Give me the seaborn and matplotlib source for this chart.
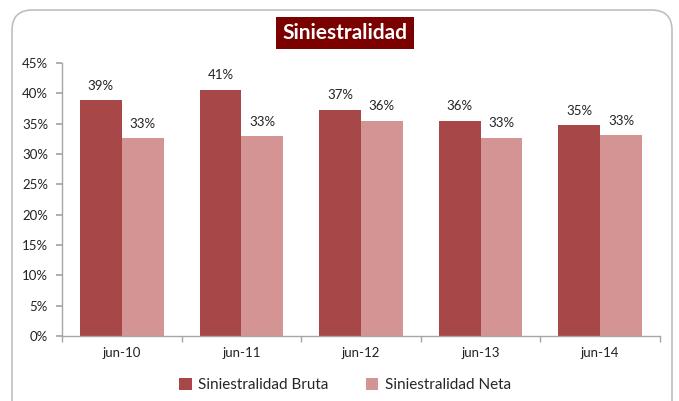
import matplotlib
matplotlib.use('Agg')
import matplotlib.pyplot as plt
import matplotlib.ticker as mtick
from matplotlib.patches import FancyBboxPatch
import seaborn as sns
import pandas as pd

periodos = ['jun-10', 'jun-11', 'jun-12', 'jun-13', 'jun-14']
bruta = [38.9, 40.6, 37.3, 35.5, 34.7]
neta = [32.6, 32.9, 35.5, 32.7, 33.1]
etiq_bruta = ['39%', '41%', '37%', '36%', '35%']
etiq_neta = ['33%', '33%', '36%', '33%', '33%']
series = ['Siniestralidad Bruta', 'Siniestralidad Neta']

rojo = '#A84747'
rosa = '#D49494'
granate = '#7B0000'
gris = '#A6A6A6'

df = pd.DataFrame({
    'periodo': periodos * 2,
    'valor': bruta + neta,
    'serie': [series[0]] * 5 + [series[1]] * 5,
})

sns.set_theme(style='white')
plt.rcParams['font.family'] = ['Lato', 'DejaVu Sans']

fig = plt.figure(figsize=(6.79, 4.01), dpi=100)
ax = fig.add_axes([62 / 679, 1 - 336 / 401, 598 / 679, 273 / 401])

sns.barplot(data=df, x='periodo', y='valor', hue='serie', palette=[rojo, rosa],
            width=0.7, saturation=1, linewidth=0, ax=ax, legend=True)

for cont, etiq in zip(ax.containers, [etiq_bruta, etiq_neta]):
    ax.bar_label(cont, labels=etiq, padding=6, fontsize=9.5, color='#222222')

ax.set_ylim(0, 45)
ax.set_xlim(-0.5, 4.5)
ax.yaxis.set_major_locator(mtick.MultipleLocator(5))
ax.yaxis.set_major_formatter(mtick.FuncFormatter(lambda v, p: f'{v:.0f}%'))
ax.set_xticks(range(5))
ax.set_xticklabels(periodos)
ax.set_xticks([-0.5, 0.5, 1.5, 2.5, 3.5, 4.5], minor=True)
ax.tick_params(axis='x', which='major', length=0, labelsize=9.5, pad=8, labelcolor='#222222')
ax.tick_params(axis='x', which='minor', length=4, color=gris, direction='out', bottom=True)
ax.tick_params(axis='y', length=4, color=gris, direction='out', left=True, labelsize=9.5, pad=6,
               labelcolor='#222222')
ax.set_xlabel('')
ax.set_ylabel('')
for lado in ['top', 'right']:
    ax.spines[lado].set_visible(False)
for lado in ['left', 'bottom']:
    ax.spines[lado].set_color(gris)
    ax.spines[lado].set_linewidth(1)

ax.legend(loc='center', bbox_to_anchor=(345 / 679, 1 - 385 / 401), bbox_transform=fig.transFigure,
          ncol=2, frameon=False, fontsize=11, handlelength=0.8, handleheight=0.8,
          handletextpad=0.4, columnspacing=2.5)

fig.text(345 / 679, 1 - 33 / 401, 'Siniestralidad', ha='center', va='center', fontsize=15,
         fontweight='bold', color='white',
         bbox=dict(boxstyle='square,pad=0.3', fc=granate, ec='none'))

borde = FancyBboxPatch((12 / 679, -20 / 401), 660 / 679, 411 / 401, transform=fig.transFigure,
                       boxstyle='round,pad=0,rounding_size=0.03', fc='none', ec='#BFBFBF', lw=1.2,
                       mutation_aspect=679 / 401)
fig.patches.append(borde)

fig.savefig('out.png', dpi=100)
